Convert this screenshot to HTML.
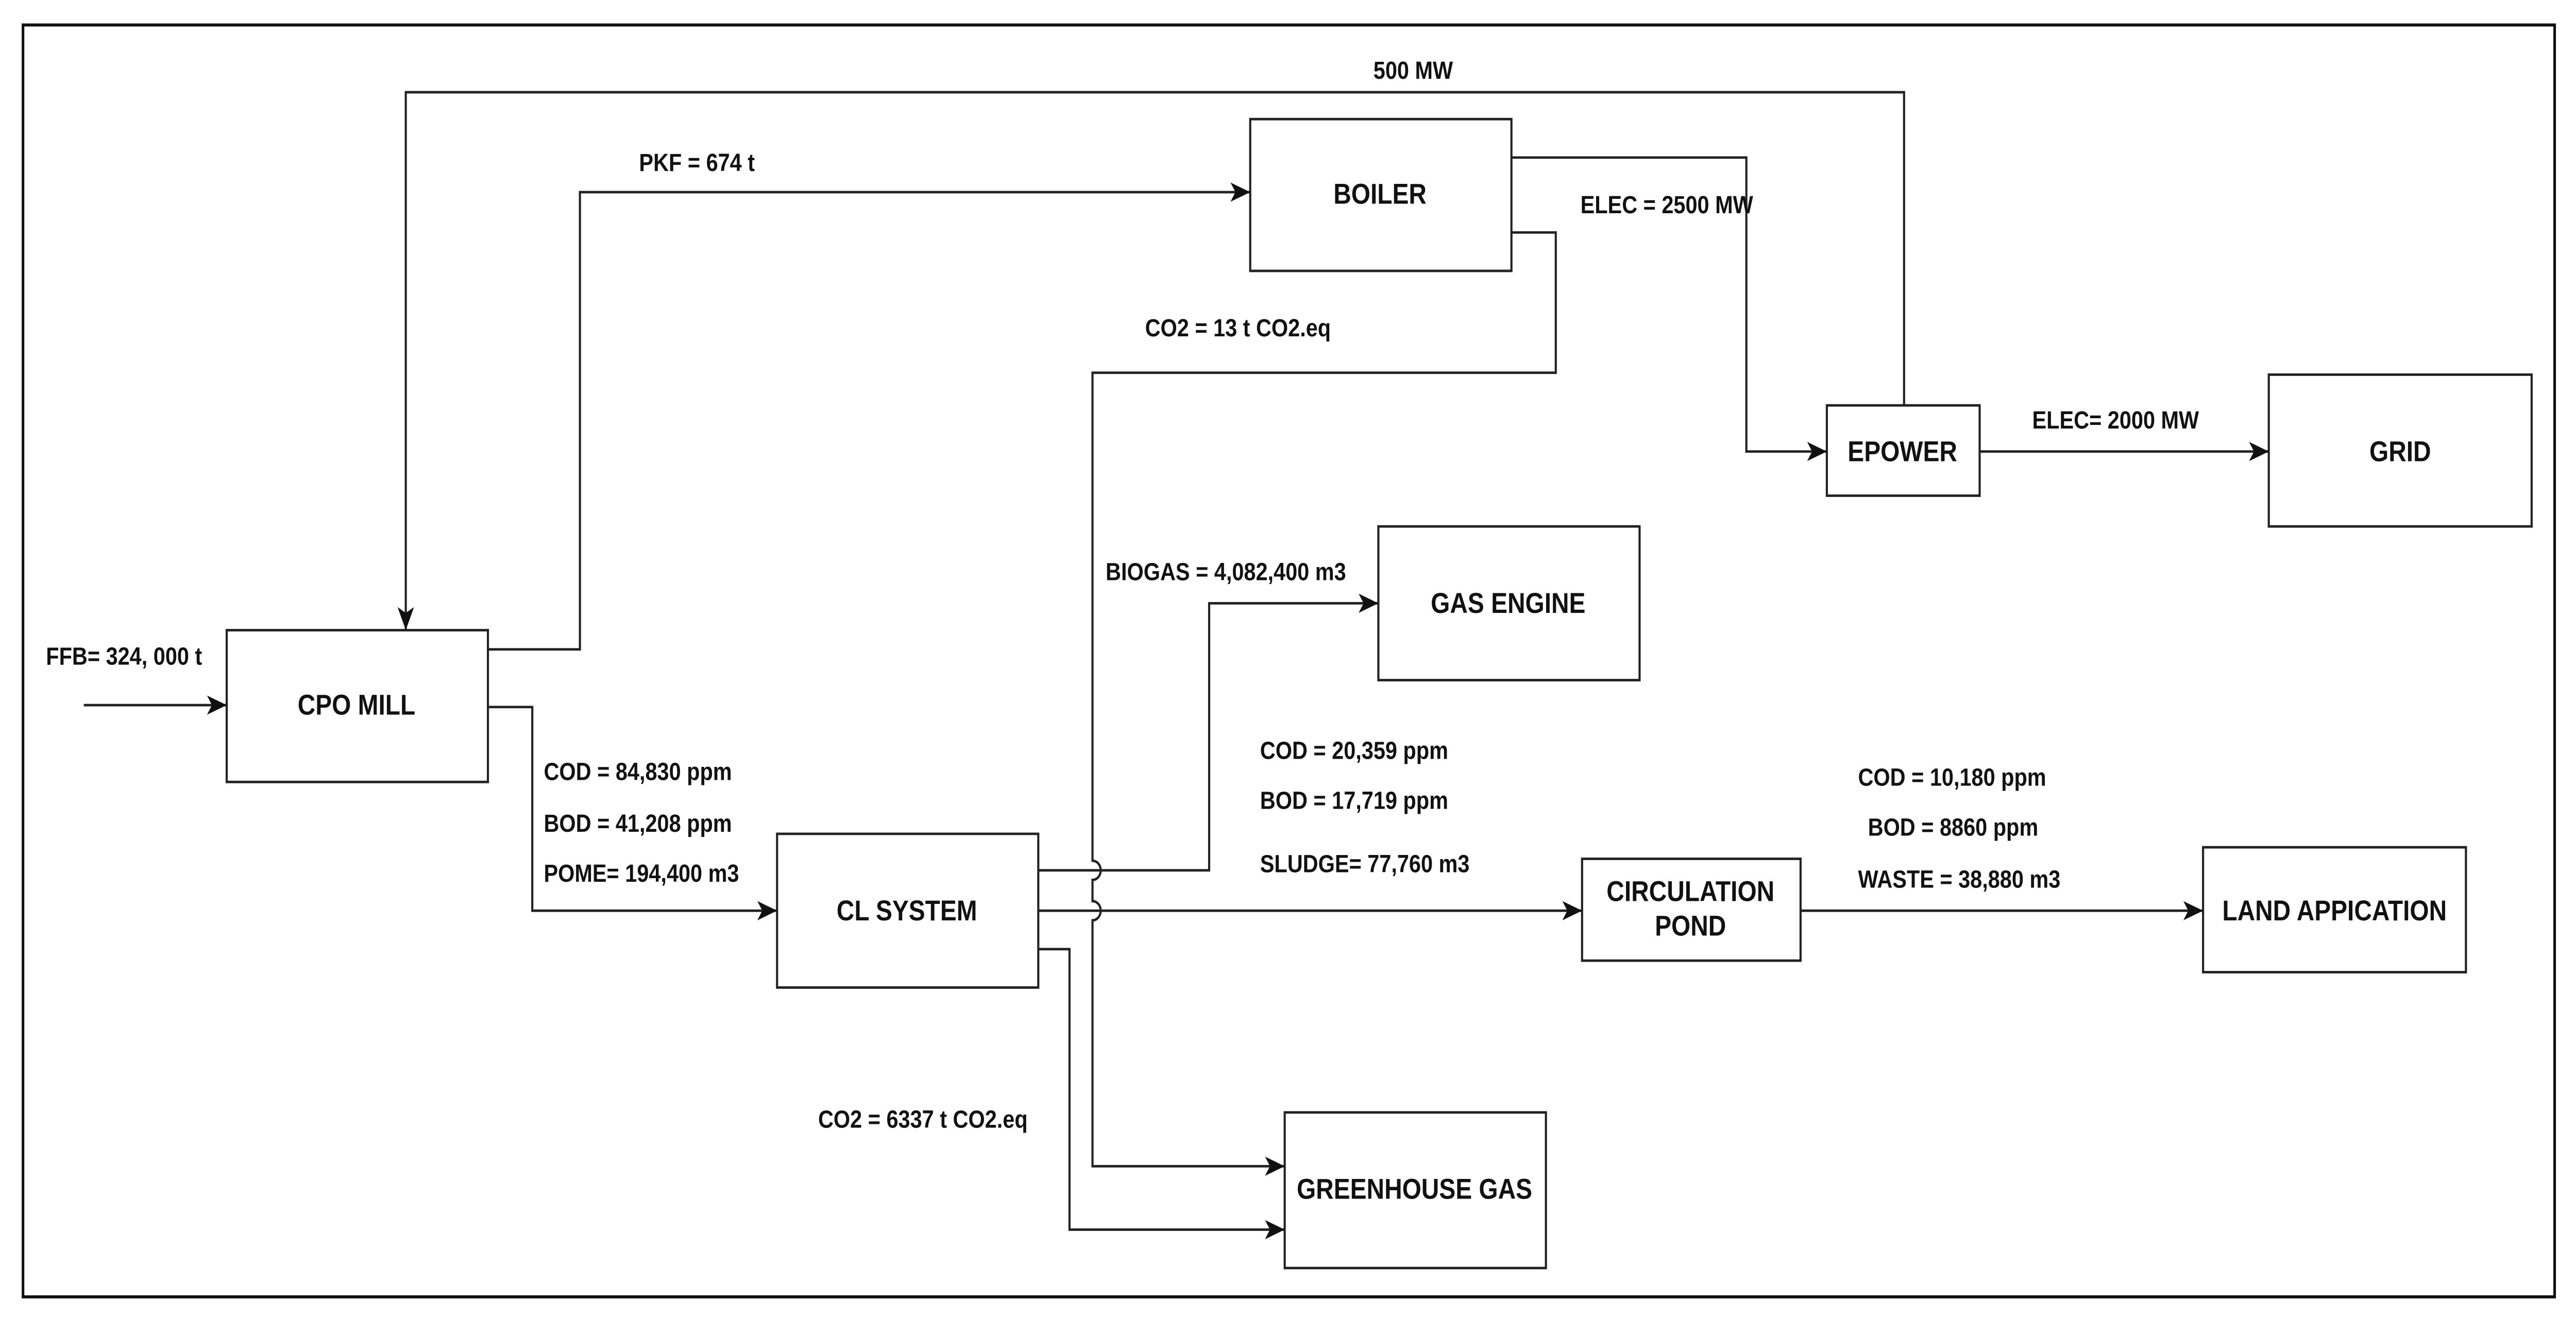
<!DOCTYPE html>
<html><head><meta charset="utf-8"><style>
html,body{margin:0;padding:0;background:#fff;width:100%;height:100%;overflow:hidden;}
svg{display:block;width:100vw;height:100vh;}
text{font-family:"Liberation Sans",Arial,sans-serif;font-weight:bold;fill:#111;}
</style></head><body>
<svg viewBox="0 0 1568 686" preserveAspectRatio="none" xmlns="http://www.w3.org/2000/svg">
<defs>
<marker id="a" viewBox="0 0 12 10" refX="12" refY="5" markerWidth="12" markerHeight="10" markerUnits="userSpaceOnUse" orient="auto">
<path d="M0,0 L12,5 L0,10 L3,5 z" fill="#111"/>
</marker>
</defs>
<rect x="0" y="0" width="1568" height="686" fill="#fff"/>
<rect x="14" y="13" width="1541" height="662" fill="none" stroke="#111" stroke-width="1.6"/>
<g fill="none" stroke="#222" stroke-width="1.3">
<rect x="138" y="328" width="159" height="79"/>
<rect x="761" y="62" width="159" height="79"/>
<rect x="1112" y="211" width="93" height="47"/>
<rect x="1381" y="195" width="160" height="79"/>
<rect x="839" y="274" width="159" height="80"/>
<rect x="473" y="434" width="159" height="80"/>
<rect x="963" y="447" width="133" height="53"/>
<rect x="1341" y="441" width="160" height="65"/>
<rect x="782" y="579" width="159" height="81"/>
<path d="M51,367 H138" marker-end="url(#a)"/>
<path d="M1159,211 V48 H247 V328" marker-end="url(#a)"/>
<path d="M297,338 H353 V100 H761" marker-end="url(#a)"/>
<path d="M920,82 H1063 V235 H1112" marker-end="url(#a)"/>
<path d="M920,121 H947 V194 H665 V448 a5,5 0 0 1 0,10 V469 a5,5 0 0 1 0,10 V607 H782" marker-end="url(#a)"/>
<path d="M1205,235 H1381" marker-end="url(#a)"/>
<path d="M632,453 H736 V314 H839" marker-end="url(#a)"/>
<path d="M632,474 H963" marker-end="url(#a)"/>
<path d="M632,494 H651 V640 H782" marker-end="url(#a)"/>
<path d="M297,368 H324 V474 H473" marker-end="url(#a)"/>
<path d="M1096,474 H1341" marker-end="url(#a)"/>
</g>
<g font-size="15" text-anchor="middle">
<text x="217" y="372">CPO MILL</text>
<text x="840" y="106">BOILER</text>
<text x="1158" y="240">EPOWER</text>
<text x="1461" y="240">GRID</text>
<text x="918" y="319">GAS ENGINE</text>
<text x="552" y="479">CL SYSTEM</text>
<text x="1029" y="469">CIRCULATION</text>
<text x="1029" y="487">POND</text>
<text x="1421" y="479">LAND APPICATION</text>
<text x="861" y="624">GREENHOUSE GAS</text>
</g>
<g font-size="13">
<text x="28" y="346">FFB= 324, 000 t</text>
<text x="836" y="41">500 MW</text>
<text x="389" y="89">PKF = 674 t</text>
<text x="962" y="111">ELEC = 2500 MW</text>
<text x="697" y="175">CO2 = 13 t  CO2.eq</text>
<text x="1237" y="223">ELEC= 2000 MW</text>
<text x="673" y="302">BIOGAS = 4,082,400 m3</text>
<text x="331" y="406">COD = 84,830 ppm</text>
<text x="331" y="433">BOD = 41,208 ppm</text>
<text x="331" y="459">POME= 194,400 m3</text>
<text x="767" y="395">COD = 20,359 ppm</text>
<text x="767" y="421">BOD = 17,719 ppm</text>
<text x="767" y="454">SLUDGE= 77,760 m3</text>
<text x="1131" y="409">COD = 10,180 ppm</text>
<text x="1137" y="435">BOD = 8860 ppm</text>
<text x="1131" y="462">WASTE = 38,880 m3</text>
<text x="498" y="587">CO2 = 6337 t  CO2.eq</text>
</g>
</svg>
</body></html>
